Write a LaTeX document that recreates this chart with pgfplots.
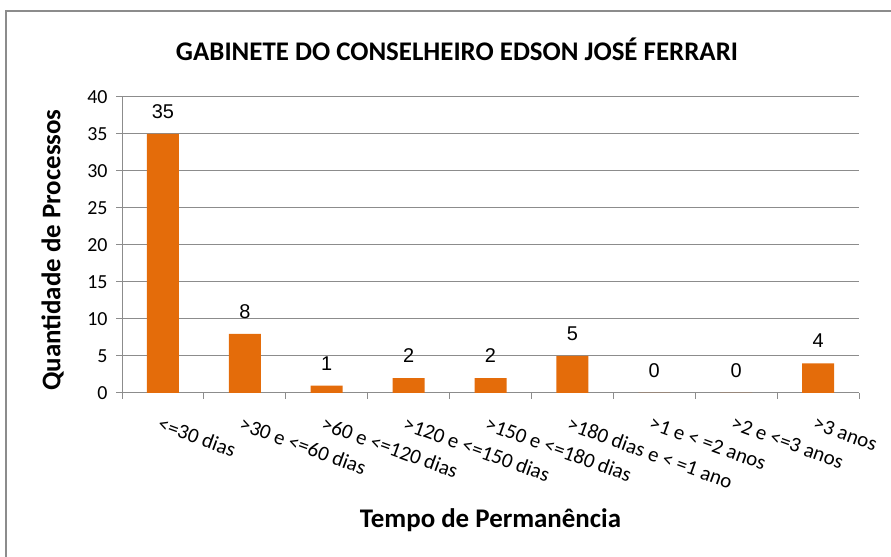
\documentclass[border=0pt]{standalone}
\usepackage{pgfplots}
\pgfplotsset{compat=1.18}
\usepackage{fontspec}
\setmainfont{Carlito}
\newfontfamily\labfont{Liberation Sans}
\definecolor{barorange}{RGB}{228,108,10}
\definecolor{gridgray}{RGB}{140,140,140}
\begin{document}
\begin{tikzpicture}[x=1bp,y=1bp]
\useasboundingbox (0,0) rectangle (891,557);
\draw[gridgray, line width=1.5bp] (6,0) -- (6,546) -- (891,546);
\node[font=\fontsize{27}{32}\selectfont\bfseries] at (457,508) {GABINETE DO CONSELHEIRO EDSON JOSÉ FERRARI};
\coordinate (A) at (122,164);
\begin{axis}[
  at={(A)}, anchor=south west,
  scale only axis, width=737bp, height=296bp,
  xmin=-0.5, xmax=8.5, ymin=0, ymax=40,
  ytick={0,5,...,40},
  xtick={0,...,8},
  xticklabels={{<=30 dias},{>30 e <=60 dias},{>60 e <=120 dias},{>120 e <=150 dias},{>150 e <=180 dias},{>180 dias e < =1 ano},{>1 e < =2 anos},{>2 e <=3 anos},{>3 anos}},
  minor xtick={-0.5,0.5,...,8.5},
  major x tick style={draw=none},
  minor x tick style={gridgray, line width=1bp},
  y tick style={gridgray, line width=1bp},
  tick align=outside,
  major tick length=6bp, minor tick length=6bp,
  axis x line*=bottom, axis y line*=left,
  axis line style={gridgray, line width=1bp},
  ymajorgrids, grid style={gridgray, line width=1bp},
  /pgf/number format/assume math mode=true,
  yticklabel style={font=\fontsize{20}{24}\selectfont, black, xshift=-5bp},
  xticklabel style={font=\fontsize{21}{25}\selectfont, black, rotate=-20, anchor=north west, xshift=1bp, yshift=-13bp},
  ylabel={Quantidade de Processos},
  ylabel style={font=\fontsize{27}{32}\selectfont\bfseries, at={(axis description cs:-0.094,0.483)}, anchor=center},
  xlabel={Tempo de Permanência},
  xlabel style={font=\fontsize{27}{32}\selectfont\bfseries, at={(axis description cs:0.5,-0.429)}, anchor=center},
  ybar, bar width=32bp,
  nodes near coords,
  every node near coord/.append style={font=\labfont\fontsize{20}{24}\selectfont, black, yshift=12bp},
]
\addplot[fill=barorange, draw=none] coordinates {(0,35) (1,8) (2,1) (3,2) (4,2) (5,5) (6,0) (7,0) (8,4)};
\end{axis}
\end{tikzpicture}
\end{document}
